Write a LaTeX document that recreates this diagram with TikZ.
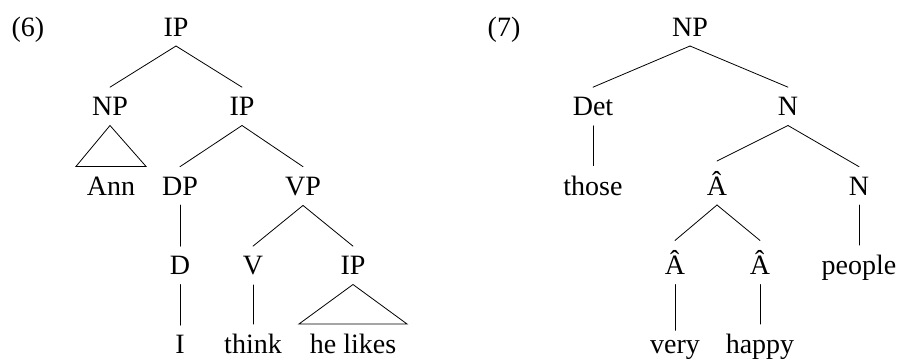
\documentclass[tikz,border=0pt]{standalone}
\usepackage{fontspec}
\setmainfont{Liberation Serif}
\begin{document}
\begin{tikzpicture}[x=1pt,y=-1pt,
  every node/.style={anchor=base,inner xsep=11pt,inner ysep=10pt,outer sep=0pt,
    font=\fontsize{28}{32}\selectfont},
  branch/.style={line width=0.8pt,line cap=round},
  roof/.style={line width=0.8pt,line join=miter}]
\useasboundingbox (0,0) rectangle (900,360);

% ---- tree (6) ----
\node (n6)   at (28,36)  {(6)};
\node (ip0)  at (176,36) {IP};
\node (np1)  at (110,115.5) {NP};
\node (ip1)  at (242,115.5) {IP};
\node (ann)  at (111,195) {Ann};
\node (dp)   at (180,195) {DP};
\node (vp)   at (303,195) {VP};
\node (d)    at (180,274.5) {D};
\node (v)    at (253,274.5) {V};
\node (ip2)  at (353,274.5) {IP};
\node (i)    at (180,353.5) {I};
\node (think) at (253,353.5) {think};
\node (helikes) at (353,353.5) {he likes};

\draw[branch] (ip0.south) -- (np1.north);
\draw[branch] (ip0.south) -- (ip1.north);
\draw[roof] (np1.south) -- (ann.north west) -- (ann.north east) -- cycle;
\draw[branch] (ip1.south) -- (dp.north);
\draw[branch] (ip1.south) -- (vp.north);
\draw[branch] (dp.south) -- (d.north);
\draw[branch] (d.south) -- (i.north);
\draw[branch] (vp.south) -- (v.north);
\draw[branch] (vp.south) -- (ip2.north);
\draw[branch] (v.south) -- (think.north);
\draw[roof] (ip2.south) -- (helikes.north west) -- (helikes.north east) -- cycle;

% ---- tree (7) ----
\node (n7)   at (504,36) {(7)};
\node (np0)  at (690,36) {NP};
\node (det)  at (593,115.5) {Det};
\node (n1)   at (788,115.5) {N};
\node (those) at (593,195) {those};
\node (a1)   at (717,195) {Â};
\node (n2)   at (859,195) {N};
\node (a2)   at (675,274.5) {Â};
\node (a3)   at (760,274.5) {Â};
\node (people) at (859,274.5) {people};
\node (very) at (675,353.5) {very};
\node (happy) at (760,353.5) {happy};

\draw[branch] (np0.south) -- (det.north);
\draw[branch] (np0.south) -- (n1.north);
\draw[branch] (det.south) -- (those.north);
\draw[branch] (n1.south) -- (a1.north);
\draw[branch] (n1.south) -- (n2.north);
\draw[branch] (a1.south) -- (a2.north);
\draw[branch] (a1.south) -- (a3.north);
\draw[branch] (n2.south) -- (people.north);
\draw[branch] (a2.south) -- (very.north);
\draw[branch] (a3.south) -- (happy.north);
\end{tikzpicture}
\end{document}
